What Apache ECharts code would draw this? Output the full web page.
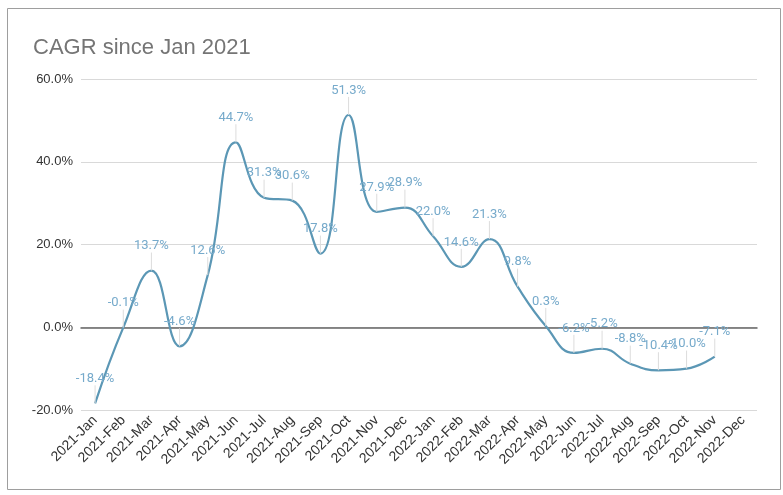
<!DOCTYPE html>
<html><head><meta charset="utf-8">
<script src="https://cdn.jsdelivr.net/npm/echarts@6/dist/echarts.min.js"></script>
<style>html,body{margin:0;padding:0;background:#fff}#c{width:783px;height:495px}</style>
</head><body><div id="c"></div>
<script>
var categories = ['2021-Jan','2021-Feb','2021-Mar','2021-Apr','2021-May','2021-Jun','2021-Jul','2021-Aug','2021-Sep','2021-Oct','2021-Nov','2021-Dec',
  '2022-Jan','2022-Feb','2022-Mar','2022-Apr','2022-May','2022-Jun','2022-Jul','2022-Aug','2022-Sep','2022-Oct','2022-Nov','2022-Dec'];
var cagr = [-18.4,-0.1,13.7,-4.6,12.6,44.7,31.3,30.6,17.8,51.3,27.9,28.9,
  22.0,14.6,21.3,9.8,0.3,-6.2,-5.2,-8.8,-10.4,-10.0,-7.1,null];
var yTicks = {min:-20, max:60, interval:20};

var chart = echarts.init(document.getElementById('c'));
chart.setOption({
  animation:false,
  graphic:[{type:'rect',shape:{x:7.5,y:8.5,width:773,height:481},style:{fill:'none',stroke:'#9e9e9e',lineWidth:1}}],
  title:{text:'CAGR since Jan 2021',left:28,top:32,textStyle:{fontFamily:'Liberation Sans, Arial',fontSize:22,fontWeight:'normal',color:'#757575'}},
  grid:{left:81,right:26,top:79,bottom:85,containLabel:false},
  xAxis:{type:'category',data:categories,boundaryGap:true,
    axisLine:{show:true,onZero:true,lineStyle:{color:'#666',width:1.5}},
    axisTick:{show:false},
    axisLabel:{rotate:45,interval:0,fontFamily:'Liberation Sans, Arial',fontSize:14,color:'#333',margin:8}},
  yAxis:{type:'value',min:yTicks.min,max:yTicks.max,interval:yTicks.interval,
    axisLine:{show:false},axisTick:{show:false},
    splitLine:{lineStyle:{color:'#d9d9d9',width:1}},
    axisLabel:{fontFamily:'Liberation Sans, Arial',fontSize:13,color:'#333',margin:8,formatter:function(v){return v.toFixed(1)+'%';}}},
  series:[{type:'line',data:cagr,smooth:0.45,connectNulls:false,
    symbol:'circle',symbolSize:0.1,showSymbol:true,
    itemStyle:{color:'rgba(0,0,0,0)',borderWidth:0},
    lineStyle:{color:'#5b97b5',width:2.2},
    label:{show:true,position:'top',distance:3,fontFamily:'Roboto',fontSize:13,color:'#76aacb',
      formatter:function(p){return p.value==null?'':p.value.toFixed(1)+'%';}},
    labelLayout:{dy:-15},
    labelLine:{show:true,lineStyle:{color:'#dcdcdc',width:1}}
  }]
});
</script></body></html>
